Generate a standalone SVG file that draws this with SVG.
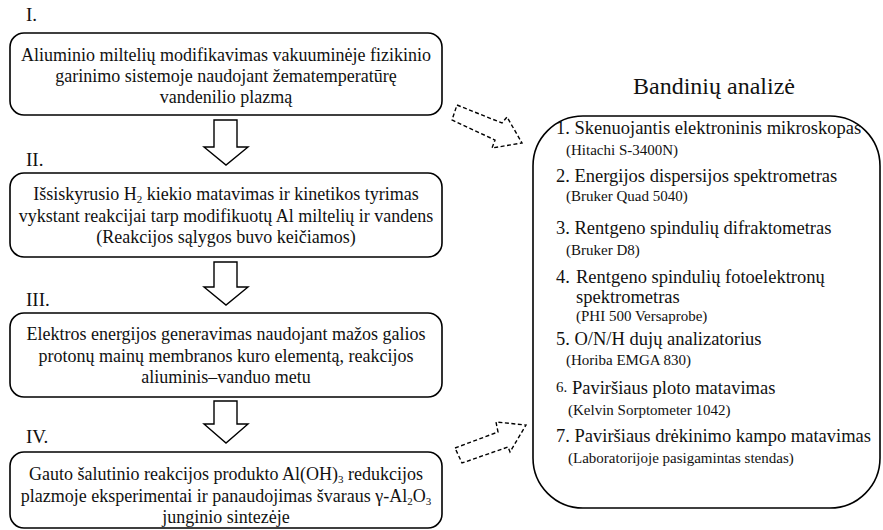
<svg xmlns="http://www.w3.org/2000/svg" width="883" height="530" viewBox="0 0 883 530">
<style>
.box{fill:#fff;stroke:#000;stroke-width:1.6}
.t{font-family:"Liberation Serif","Times New Roman",serif;font-size:18px;fill:#111}
.c{text-anchor:middle}
.it{font-family:"Liberation Serif","Times New Roman",serif;font-size:18.5px;fill:#111}
.lab{font-family:"Liberation Serif","Times New Roman",serif;font-size:19px;fill:#111}
.s{font-family:"Liberation Serif","Times New Roman",serif;font-size:15px;fill:#111}
.ttl{font-family:"Liberation Serif","Times New Roman",serif;font-size:24px;fill:#111;text-anchor:middle}
.blk{fill:#fff;stroke:#000;stroke-width:1.4;stroke-linejoin:miter}
.dash{fill:none;stroke:#000;stroke-width:1.4;stroke-dasharray:4 2.5}
</style>
<rect width="883" height="530" fill="#fff"/>

<g id="step1">
<text class="lab" x="26" y="21">I.</text>
<rect class="box" x="10" y="33" width="432" height="82" rx="14"/>
<text class="t c" x="226" y="61">Aliuminio miltelių modifikavimas vakuuminėje fizikinio</text>
<text class="t c" x="226" y="82">garinimo sistemoje naudojant žematemperatūrę</text>
<text class="t c" x="226" y="103">vandenilio plazmą</text>
</g>

<g id="step2">
<text class="lab" x="26" y="166">II.</text>
<rect class="box" x="10" y="173" width="432" height="84" rx="14"/>
<text class="t c" x="226" y="200">Išsiskyrusio H<tspan font-size="11" dy="3">2</tspan><tspan dy="-3"> kiekio matavimas ir kinetikos tyrimas</tspan></text>
<text class="t c" x="226" y="222">vykstant reakcijai tarp modifikuotų Al miltelių ir vandens</text>
<text class="t c" x="226" y="243">(Reakcijos sąlygos buvo keičiamos)</text>
</g>

<g id="step3">
<text class="lab" x="26" y="306">III.</text>
<rect class="box" x="10" y="313" width="432" height="84" rx="14"/>
<text class="t c" x="226" y="340">Elektros energijos generavimas naudojant mažos galios</text>
<text class="t c" x="226" y="362">protonų mainų membranos kuro elementą, reakcijos</text>
<text class="t c" x="226" y="383">aliuminis–vanduo metu</text>
</g>

<g id="step4">
<text class="lab" x="26" y="443">IV.</text>
<rect class="box" x="10" y="452" width="432" height="76" rx="14"/>
<text class="t c" x="226" y="480">Gauto šalutinio reakcijos produkto Al(OH)<tspan font-size="11" dy="3">3</tspan><tspan dy="-3"> redukcijos</tspan></text>
<text class="t c" x="226" y="502">plazmoje eksperimentai ir panaudojimas švaraus γ-Al<tspan font-size="11" dy="3">2</tspan><tspan dy="-3">O</tspan><tspan font-size="11" dy="3">3</tspan></text>
<text class="t c" x="226" y="523">junginio sintezėje</text>
</g>

<g id="analysis">
<text class="ttl" x="714" y="94">Bandinių analizė</text>
<rect class="box" x="533" y="116" width="347" height="392" rx="50" ry="50"/>
<text class="it" x="556" y="134">1. Skenuojantis elektroninis mikroskopas</text>
<text class="s" x="566" y="155">(Hitachi S-3400N)</text>
<text class="it" x="556" y="182">2. Energijos dispersijos spektrometras</text>
<text class="s" x="566" y="201">(Bruker Quad 5040)</text>
<text class="it" x="556" y="234">3. Rentgeno spindulių difraktometras</text>
<text class="s" x="566" y="255">(Bruker D8)</text>
<text class="it" x="556" y="283">4.</text>
<text class="it" x="576" y="283">Rentgeno spindulių fotoelektronų</text>
<text class="it" x="576" y="303">spektrometras</text>
<text class="s" x="576" y="321">(PHI 500 Versaprobe)</text>
<text class="it" x="556" y="345">5. O/N/H dujų analizatorius</text>
<text class="s" x="566" y="365">(Horiba EMGA 830)</text>
<text class="it" x="556" y="394"><tspan font-size="15" dy="-2">6.</tspan><tspan dy="2"> Paviršiaus ploto matavimas</tspan></text>
<text class="s" x="568" y="415">(Kelvin Sorptometer 1042)</text>
<text class="it" x="556" y="442">7. Paviršiaus drėkinimo kampo matavimas</text>
<text class="s" x="568" y="463">(Laboratorijoje pasigamintas stendas)</text>
</g>

<g id="connectors">
<polygon class="blk" points="214,120 237,120 237,147 248,147 226,165 204,147 214,147"/>
<polygon class="blk" points="214,262 237,262 237,287 248,287 226,305 204,287 214,287"/>
<polygon class="blk" points="214,401 237,401 237,424 248,424 226,443 204,424 214,424"/>
<polygon class="dash" points="457,105 502,123 507,117 522,143 492,148 495,140 452,120"/>
<polygon class="dash" points="455,448 498,432 496,422 526,425 510,452 508,447 462,463"/>
</g>
</svg>
